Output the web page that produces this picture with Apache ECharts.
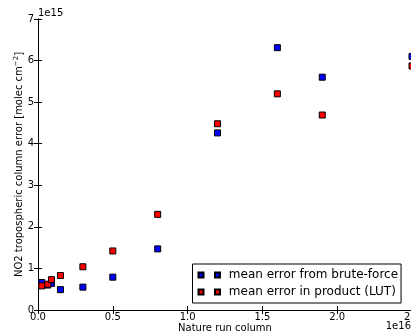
<!DOCTYPE html>
<html><head><meta charset="utf-8">
<script src="https://cdn.jsdelivr.net/npm/echarts@6/dist/echarts.min.js"></script>
<style>html,body{margin:0;padding:0;background:#fff;overflow:hidden}#c{width:411px;height:334px}</style>
</head><body><div id="c"></div>
<script>
// x in units of 1e16, y in units of 1e15
const natureRunColumn = [0.025, 0.065, 0.09, 0.15, 0.3, 0.5, 0.8, 1.2, 1.6, 1.9, 2.5];
const bruteForceError = [0.66, 0.60, 0.64, 0.49, 0.55, 0.79, 1.47, 4.26, 6.31, 5.60, 6.10];
const productLutError = [0.58, 0.62, 0.73, 0.83, 1.04, 1.42, 2.30, 4.48, 5.20, 4.69, 5.87];
const seriesNames = ['mean error from brute-force', 'mean error in product (LUT)'];
const xAxisTitle = 'Nature run column';
const yAxisTitle = 'NO2 tropospheric column error [molec cm{s|\u22122}]';
const xOffsetText = '1e16';
const yOffsetText = '1e15';

const FONT = 'DejaVu Sans';
const chart = echarts.init(document.getElementById('c'), null, {renderer: 'canvas'});
const zip = (xs, ys) => xs.map((x, i) => [x, ys[i]]);

const baseAxisX = {
  type: 'value', min: 0, max: 2.5, interval: 0.5,
  axisLine: {show: true, lineStyle: {color: '#000', width: 1}},
  axisTick: {show: true, inside: true, length: 4, lineStyle: {color: '#000'}},
  splitLine: {show: false}
};
const baseAxisY = {
  type: 'value', min: 0, max: 7, interval: 1,
  axisLine: {show: true, lineStyle: {color: '#000', width: 1}},
  axisTick: {show: true, inside: true, length: 4, lineStyle: {color: '#000'}},
  splitLine: {show: false}
};

chart.setOption({
  animation: false,
  backgroundColor: '#fff',
  textStyle: {fontFamily: FONT},
  grid: {left: 38, top: 19, width: 374, height: 291, containLabel: false, outerBoundsMode: 'none'},
  xAxis: [
    Object.assign({}, baseAxisX, {
      position: 'bottom',
      axisLabel: {show: true, color: '#000', fontSize: 10, fontFamily: FONT, margin: 2,
        showMaxLabel: true, formatter: v => v.toFixed(1)},
      name: xAxisTitle, nameLocation: 'middle', nameGap: 13, nameMoveOverlap: false,
      nameTextStyle: {color: '#000', fontSize: 10, fontFamily: FONT}
    }),
    Object.assign({}, baseAxisX, {position: 'top', axisLabel: {show: false}})
  ],
  yAxis: [
    Object.assign({}, baseAxisY, {
      position: 'left',
      axisLabel: {show: true, color: '#000', fontSize: 10, fontFamily: FONT, margin: 4},
      name: yAxisTitle, nameLocation: 'middle', nameGap: 12, nameRotate: 90, nameMoveOverlap: false,
      nameTextStyle: {color: '#000', fontSize: 10, fontFamily: FONT,
        rich: {s: {fontSize: 7, fontFamily: FONT, color: '#000', verticalAlign: 'top', padding: [0, 0, 6, 0]}}}
    }),
    Object.assign({}, baseAxisY, {position: 'right', axisLabel: {show: false}})
  ],
  legend: {
    data: seriesNames,
    orient: 'vertical', left: 192.5, top: 264,
    padding: [5, 3, 5, 5], itemGap: 5,
    itemWidth: 21.5, itemHeight: 5,
    icon: 'path://M0,0h5v5h-5zM16.5,0h5v5h-5z',
    formatter: ' {name}',
    selectedMode: false,
    borderColor: '#000', borderWidth: 1, borderRadius: 0, backgroundColor: '#fff',
    textStyle: {color: '#000', fontSize: 12, fontFamily: FONT}
  },
  graphic: [
    {type: 'text', left: 38, top: 8, style: {text: yOffsetText, fill: '#000', font: '10px "DejaVu Sans"'}},
    {type: 'text', right: 0, top: 321, style: {text: xOffsetText, fill: '#000', font: '10px "DejaVu Sans"'}}
  ],
  series: [
    {
      name: seriesNames[0], type: 'scatter', xAxisIndex: 0, yAxisIndex: 0,
      symbol: 'rect', symbolSize: 6, clip: false,
      itemStyle: {color: '#0000ff', borderColor: '#000', borderWidth: 1, opacity: 1},
      data: zip(natureRunColumn, bruteForceError)
    },
    {
      name: seriesNames[1], type: 'scatter', xAxisIndex: 0, yAxisIndex: 0,
      symbol: 'rect', symbolSize: 6, clip: false,
      itemStyle: {color: '#ff0000', borderColor: '#000', borderWidth: 1, opacity: 1},
      data: zip(natureRunColumn, productLutError)
    }
  ]
});
</script></body></html>
